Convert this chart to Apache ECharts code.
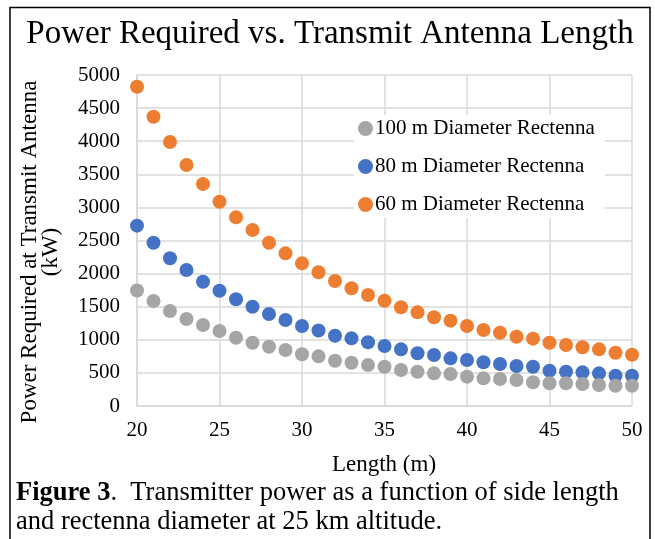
<!DOCTYPE html>
<html>
<head>
<meta charset="utf-8">
<script src="https://cdn.jsdelivr.net/npm/echarts@6/dist/echarts.min.js"></script>
<style>
  html, body { margin: 0; padding: 0; background: #fff; }
  #main { width: 655px; height: 539px; }
</style>
</head>
<body>
<div id="main"></div>
<script>
// antenna side length (m)
const lengths = [20, 21, 22, 23, 24, 25, 26, 27, 28, 29, 30, 31, 32, 33, 34, 35,
  36, 37, 38, 39, 40, 41, 42, 43, 44, 45, 46, 47, 48, 49, 50]
// power required (kW)
const power100 = [1745, 1586, 1435, 1314, 1224, 1133, 1032, 956, 896, 846, 781, 750,
  684, 654, 619, 594, 544, 518, 493, 483, 443, 418, 408, 393, 358, 343, 343, 332, 317, 307, 307]
const power80 = [2724, 2467, 2231, 2054, 1878, 1742, 1612, 1500, 1390, 1299, 1208, 1140,
  1062, 1022, 962, 906, 856, 796, 770, 720, 695, 660, 634, 604, 594, 533, 518, 508, 493, 458, 458]
const power60 = [4823, 4370, 3988, 3640, 3353, 3086, 2850, 2659, 2467, 2306, 2155, 2020,
  1888, 1778, 1677, 1591, 1491, 1415, 1340, 1289, 1208, 1148, 1107, 1047, 1017, 956, 921, 887, 856, 805, 775]
const seriesNames = ['100 m Diameter Rectenna', '80 m Diameter Rectenna', '60 m Diameter Rectenna']

const FONT = "'Liberation Serif', 'Times New Roman', serif"
const pairs = (ys) => lengths.map((x, i) => [x, ys[i]])

const chart = echarts.init(document.getElementById('main'), null, { renderer: 'canvas' })

chart.setOption({
  animation: false,
  backgroundColor: '#fff',
  textStyle: { fontFamily: FONT },
  grid: { left: 137, right: 23, top: 75, bottom: 133 },
  xAxis: {
    type: 'value',
    min: 20,
    max: 50,
    interval: 5,
    axisLine: { show: true, lineStyle: { color: '#d9d9d9', width: 1.5 } },
    axisTick: { show: false },
    splitLine: { show: true, lineStyle: { color: '#d9d9d9', width: 1.5 } },
    axisLabel: { color: '#000', fontFamily: FONT, fontSize: 21, margin: 14 },
  },
  yAxis: {
    type: 'value',
    min: 0,
    max: 5000,
    interval: 500,
    axisLine: { show: true, lineStyle: { color: '#d9d9d9', width: 1.5 } },
    axisTick: { show: false },
    splitLine: { show: true, lineStyle: { color: '#d9d9d9', width: 1.5 } },
    axisLabel: { color: '#000', fontFamily: FONT, fontSize: 21, margin: 17, formatter: (v) => String(v) },
  },
  legend: {
    data: seriesNames,
    orient: 'vertical',
    left: 354,
    top: 115,
    itemGap: 17,
    itemWidth: 15,
    itemHeight: 15,
    icon: 'circle',
    padding: [3, 10, 3, 4],
    backgroundColor: '#fff',
    textStyle: { color: '#000', fontFamily: FONT, fontSize: 21, padding: [0, 0, 0, -3] },
  },
  series: [
    // drawn back to front: orange, blue, then gray on top
    {
      name: seriesNames[2],
      type: 'scatter',
      data: pairs(power60),
      symbolSize: 14,
      itemStyle: { color: '#ED7D31', opacity: 1 },
    },
    {
      name: seriesNames[1],
      type: 'scatter',
      data: pairs(power80),
      symbolSize: 14,
      itemStyle: { color: '#4472C4', opacity: 1 },
    },
    {
      name: seriesNames[0],
      type: 'scatter',
      data: pairs(power100),
      symbolSize: 14,
      itemStyle: { color: '#A5A5A5', opacity: 1 },
    },
  ],
  graphic: [
    // figure frame
    {
      type: 'rect',
      shape: { x: 10, y: 7.5, width: 640, height: 545 },
      style: { fill: null, stroke: '#000', lineWidth: 1.5 },
      silent: true,
    },
    {
      type: 'text',
      x: 330,
      y: 34,
      style: {
        text: 'Power Required vs. Transmit Antenna Length',
        fill: '#000',
        font: `33px ${FONT}`,
        align: 'center',
        verticalAlign: 'middle',
      },
    },
    {
      type: 'text',
      x: 40,
      y: 252,
      rotation: Math.PI / 2,
      style: {
        text: 'Power Required at Transmit Antenna\n(kW)',
        fill: '#000',
        font: `23px ${FONT}`,
        align: 'center',
        verticalAlign: 'middle',
        lineHeight: 21,
      },
    },
    {
      type: 'text',
      x: 384,
      y: 465,
      style: { text: 'Length (m)', fill: '#000', font: `23px ${FONT}`, align: 'center', verticalAlign: 'middle' },
    },
    {
      type: 'text',
      x: 16,
      y: 479,
      style: {
        text: '{b|Figure 3}.  Transmitter power as a function of side length\nand rectenna diameter at 25 km altitude.',
        fill: '#000',
        font: `26.5px ${FONT}`,
        lineHeight: 29,
        rich: {
          b: { fontWeight: 'bold', fontSize: 26.5, fontFamily: FONT, fill: '#000', lineHeight: 29 },
        },
      },
    },
  ],
})
</script>
</body>
</html>
